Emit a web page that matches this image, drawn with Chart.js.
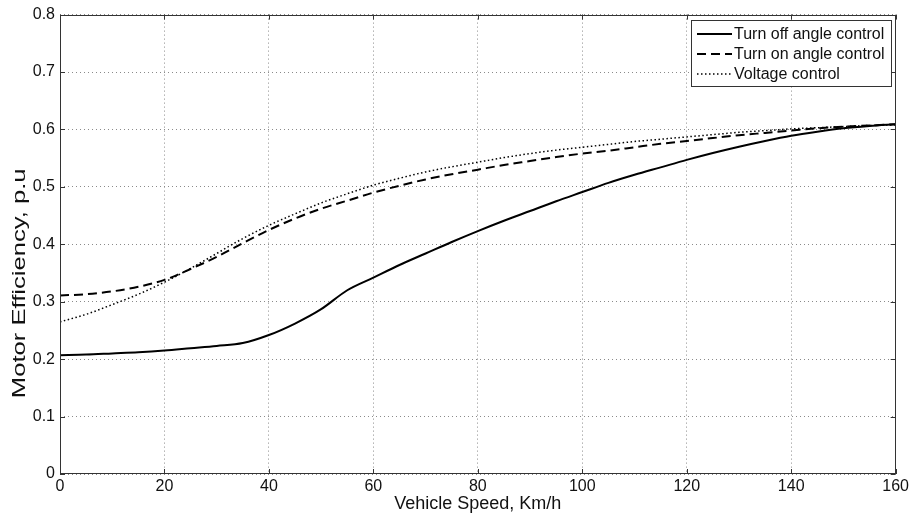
<!DOCTYPE html>
<html>
<head>
<meta charset="utf-8">
<script src="https://cdn.jsdelivr.net/npm/chart.js@4/dist/chart.umd.min.js"></script>
<style>
html,body{margin:0;padding:0;background:#fff;}
#wrap{width:912px;height:518px;position:relative;}
</style>
</head>
<body>
<div id="wrap"><canvas id="c"></canvas></div>
<script>
const speeds = [0,5,10,15,20,25,30,35,40,45,50,55,60,65,70,75,80,85,90,95,100,105,110,115,120,125,130,135,140,145,150,155,160];
const turnOffAngle = [0.207,0.208,0.210,0.212,0.215,0.219,0.223,0.228,0.242,0.262,0.287,0.320,0.342,0.364,0.384,0.404,0.423,0.441,0.458,0.475,0.491,0.507,0.521,0.534,0.547,0.559,0.570,0.580,0.589,0.596,0.602,0.606,0.609];
const turnOnAngle = [0.311,0.313,0.318,0.326,0.338,0.357,0.378,0.402,0.425,0.445,0.462,0.476,0.490,0.502,0.513,0.522,0.530,0.538,0.545,0.552,0.558,0.563,0.569,0.575,0.580,0.585,0.590,0.594,0.598,0.602,0.605,0.607,0.609];
const voltageCtrl = [0.265,0.278,0.295,0.313,0.334,0.358,0.384,0.410,0.433,0.453,0.472,0.488,0.503,0.515,0.526,0.535,0.543,0.551,0.558,0.564,0.569,0.574,0.579,0.583,0.587,0.591,0.595,0.598,0.601,0.603,0.605,0.607,0.608];
const seriesNames = ["Turn off angle control","Turn on angle control","Voltage control"];
const xTitle = "Vehicle Speed, Km/h";
const yTitle = "Motor Efficiency, p.u";

const FONT = "'Liberation Sans', Arial, sans-serif";
const toPts = arr => arr.map((v,i)=>({x:speeds[i], y:v}));

const frameAndLegend = {
  id: 'frameAndLegend',
  afterDraw(chart) {
    const {ctx, chartArea: a, scales} = chart;
    ctx.save();
    // y-axis title (stretched along its length like the original raster)
    ctx.save();
    ctx.font = "18px " + FONT;
    const w = ctx.measureText(yTitle).width;
    const targetLen = (a.bottom - a.top) * 0.5;
    const sx = targetLen / w;
    const cy = a.bottom - (a.bottom - a.top) * 0.415;
    ctx.translate(20, cy);
    ctx.rotate(-Math.PI/2);
    ctx.scale(sx, 1);
    ctx.fillStyle = '#111';
    ctx.textAlign = 'center';
    ctx.textBaseline = 'middle';
    ctx.fillText(yTitle, 0, 0);
    ctx.restore();
    ctx.restore();
  },
  afterDatasetsDraw(chart) {
    const {ctx, chartArea: a, scales} = chart;
    ctx.save();
    // frame
    ctx.strokeStyle = '#333';
    ctx.lineWidth = 1;
    ctx.setLineDash([]);
    ctx.strokeRect(Math.round(a.left)+0.5, Math.round(a.top)+0.5, Math.round(a.right-a.left)-1, Math.round(a.bottom-a.top)-1);
    // inward ticks
    const tl = 5;
    ctx.beginPath();
    scales.x.ticks.forEach(t => {
      const px = Math.round(scales.x.getPixelForValue(t.value)) + 0.5;
      ctx.moveTo(px, a.bottom); ctx.lineTo(px, a.bottom - tl);
      ctx.moveTo(px, a.top); ctx.lineTo(px, a.top + tl);
    });
    scales.y.ticks.forEach(t => {
      const py = Math.round(scales.y.getPixelForValue(t.value)) + 0.5;
      ctx.moveTo(a.left, py); ctx.lineTo(a.left + tl, py);
      ctx.moveTo(a.right, py); ctx.lineTo(a.right - tl, py);
    });
    ctx.stroke();
    // legend box
    const bw = 200, rowH = 20;
    const n = chart.data.datasets.length;
    const bh = n*rowH + 6;
    const bx = Math.round(a.right) - 5 - bw, by = Math.round(a.top) + 5;
    ctx.fillStyle = '#fff';
    ctx.fillRect(bx, by, bw, bh);
    ctx.strokeStyle = '#333';
    ctx.strokeRect(bx+0.5, by+0.5, bw, bh);
    ctx.font = "16px " + FONT;
    ctx.textBaseline = 'middle';
    ctx.textAlign = 'left';
    chart.data.datasets.forEach((ds, i) => {
      const cy = by + 14 + i*rowH;
      ctx.beginPath();
      ctx.strokeStyle = ds.borderColor;
      ctx.lineWidth = ds.borderWidth;
      ctx.setLineDash(ds.borderDash || []);
      ctx.moveTo(bx + 6, cy); ctx.lineTo(bx + 41, cy);
      ctx.stroke();
      ctx.setLineDash([]);
      ctx.fillStyle = '#111';
      ctx.fillText(ds.label, bx + 43, cy + 1);
    });
    ctx.restore();
  }
};

new Chart(document.getElementById('c'), {
  type: 'line',
  data: {
    datasets: [
      {label: seriesNames[0], data: toPts(turnOffAngle), borderColor:'#000', borderWidth:2, pointRadius:0, cubicInterpolationMode:'monotone', fill:false},
      {label: seriesNames[1], data: toPts(turnOnAngle), borderColor:'#000', borderWidth:2, borderDash:[9,5], pointRadius:0, cubicInterpolationMode:'monotone', fill:false},
      {label: seriesNames[2], data: toPts(voltageCtrl), borderColor:'#000', borderWidth:1.5, borderDash:[1.5,2.5], pointRadius:0, cubicInterpolationMode:'monotone', fill:false}
    ]
  },
  options: {
    responsive: true,
    maintainAspectRatio: false,
    animation: false,
    layout: {padding: {top: 14, right: 15, left: 0, bottom: 0}},
    plugins: {legend: {display:false}, tooltip:{enabled:false}},
    scales: {
      x: {
        type: 'linear', min: 0, max: 160,
        ticks: {stepSize: 20, color:'#111', font:{family:FONT, size:16}, padding:3, maxRotation:0},
        grid: {color:'#8a8a8a', lineWidth:1, drawTicks:false},
        border: {display:false, dash:[1,3]},
        title: {display:true, text:xTitle, color:'#111', font:{family:FONT, size:18}, padding:{top:0,bottom:3}},
        afterFit(s){ s.height = 44; }
      },
      y: {
        min: 0, max: 0.8,
        ticks: {stepSize: 0.1, color:'#111', font:{family:FONT, size:16}, padding:5, callback: v => (Math.round(v*10)/10).toString()},
        grid: {color:'#8a8a8a', lineWidth:1, drawTicks:false},
        border: {display:false, dash:[1,3]},
        title: {display:false, text:yTitle},
        afterFit(s){ s.width = 60; }
      }
    }
  },
  plugins: [frameAndLegend]
});
</script>
</body>
</html>
